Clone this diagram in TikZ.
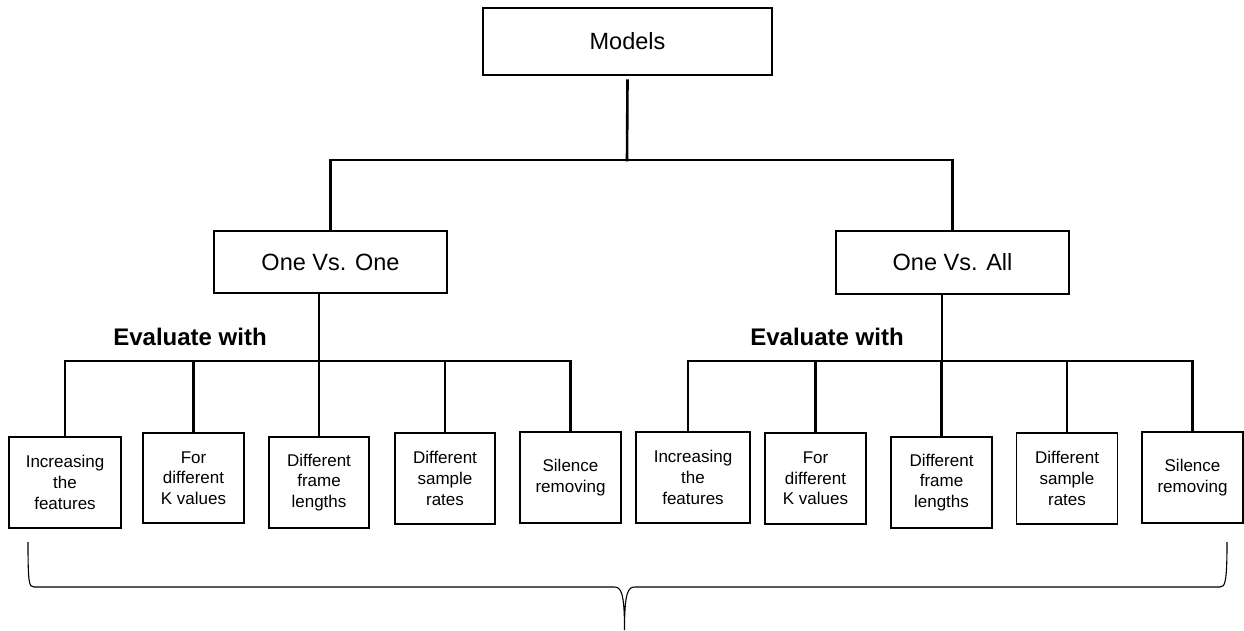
\documentclass[tikz,border=0pt]{standalone}
\usepackage{fontspec}
\setmainfont{Liberation Sans}
\begin{document}
\begin{tikzpicture}[x=1pt,y=-1pt,
  box/.style={draw,line width=1.2pt,inner sep=0pt,align=center},
  big/.style={box,font=\fontsize{23.5}{28}\selectfont},
  leaf/.style={box,font=\fontsize{17}{20.7}\selectfont},
  conn/.style={line width=2.6pt,line cap=rect},
  lbl/.style={font=\fontsize{24}{28}\selectfont\bfseries,inner sep=0pt},
  bracep/.style={line width=1.1pt}]
\useasboundingbox (0,0) rectangle (1244,630);

% top level
\node[big,minimum width=289pt,minimum height=67pt] (models) at (627.5,41.5) {Models};
\node[big,minimum width=233pt,minimum height=62pt] (ovo) at (330.5,262) {One Vs. One};
\node[big,minimum width=233pt,minimum height=63pt] (ova) at (952.5,262.5) {One Vs. All};

% left leaves
\node[leaf,minimum width=112pt,minimum height=91pt] (L1) at (65,482.5) {Increasing\\the\\features};
\node[leaf,minimum width=101pt,minimum height=90pt] (L2) at (193.5,478) {For\\different\\K values};
\node[leaf,minimum width=100pt,minimum height=91pt] (L3) at (319,482.5) {Different\\frame\\lengths};
\node[leaf,minimum width=100pt,minimum height=91pt] (L4) at (445,478.5) {Different\\sample\\rates};
\node[leaf,minimum width=101pt,minimum height=91pt] (L5) at (570.5,477.5) {Silence\\removing};

% right leaves
\node[leaf,minimum width=114pt,minimum height=91pt] (R1) at (693,477.5) {Increasing\\the\\features};
\node[leaf,minimum width=101pt,minimum height=91pt] (R2) at (815.5,478.5) {For\\different\\K values};
\node[leaf,minimum width=101pt,minimum height=91pt] (R3) at (941.5,482.5) {Different\\frame\\lengths};
\node[leaf,minimum width=101pt,minimum height=91pt] (R4) at (1067,478.5) {Different\\sample\\rates};
\node[leaf,minimum width=101pt,minimum height=91pt] (R5) at (1192.5,477.5) {Silence\\removing};

% labels
\node[lbl] (evl) at (190,337) {Evaluate with};
\node[lbl] (evr) at (827,337) {Evaluate with};

% junction coordinates
\coordinate (t) at (627,160);
\coordinate (el) at (319,361);
\coordinate (er) at (942,361);
\coordinate (r1j) at (688,361);

% top tree
\draw[conn] ([yshift=-5pt]models.south) -- (t);
\draw[conn] (ovo.north) -- (ovo.north |- t) -- (ova.north |- t) -- (ova.north);

% left evaluate tree
\draw[conn] (el |- ovo.south) -- (el);
\draw[conn] (L1.north |- el) -- (L5.north |- el);
\foreach \n in {L1,L2,L3,L4,L5}
  \draw[conn] (\n.north |- el) -- ([yshift=2pt]\n.north);

% right evaluate tree
\draw[conn] (er |- ova.south) -- (er);
\draw[conn] (r1j) -- (R5.north |- er);
\draw[conn] (r1j) -- (r1j |- R1.north);
\foreach \n in {R2,R3,R4,R5}
  \draw[conn] (\n.north |- er) -- ([yshift=2pt]\n.north);

% brace
\coordinate (bl) at (28,542);
\coordinate (bt) at (624.5,630);
\coordinate (br) at (1227,542);
\draw[bracep] (bl) .. controls (28,583) and (29,587) .. (34,587) -- (614,587)
  .. controls (621,587) and (624.5,592) .. (bt)
  .. controls (624.5,592) and (628,587) .. (635,587) -- (1220,587)
  .. controls (1225,587) and (1227,583) .. (br);
\end{tikzpicture}
\end{document}
